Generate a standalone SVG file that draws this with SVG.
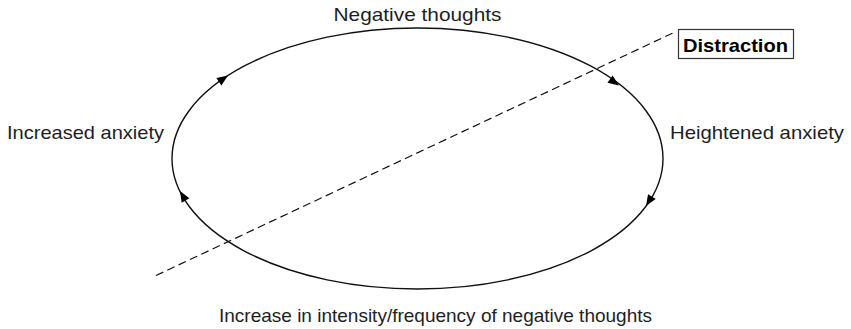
<svg xmlns="http://www.w3.org/2000/svg" width="851" height="329" viewBox="0 0 851 329">
<style>
text{font-family:"Liberation Sans",Arial,sans-serif;font-size:18.5px;fill:#1e1e1e}
.b{font-weight:bold;fill:#000}
.cyc{fill:none;stroke:#111;stroke-width:1.4}
.dash{fill:none;stroke:#111;stroke-width:1.2;stroke-dasharray:8 4.5}
.ah{fill:#000}
.box{fill:#fff;stroke:#333;stroke-width:1.2}
</style>
<defs>
<path id="arrow" class="ah" d="M0,0 L-11,-4.5 L-11,4.5 Z"/>
</defs>
<g id="connectors">
<ellipse class="cyc" cx="417.5" cy="158.5" rx="245.5" ry="130.5"/>
<line class="dash" x1="156" y1="275.5" x2="675" y2="32"/>
<use href="#arrow" transform="translate(228,75.5) rotate(-34.1)"/>
<use href="#arrow" transform="translate(619,85.5) rotate(35.3)"/>
<use href="#arrow" transform="translate(646,206) rotate(122.2)"/>
<use href="#arrow" transform="translate(180,191) rotate(-120.2)"/>
</g>
<g id="node-negative">
<text x="417.5" y="21" text-anchor="middle" textLength="168" lengthAdjust="spacingAndGlyphs">Negative thoughts</text>
</g>
<g id="node-heightened">
<text x="670" y="138.5" textLength="174" lengthAdjust="spacingAndGlyphs">Heightened anxiety</text>
</g>
<g id="node-increase">
<text x="435.5" y="322" text-anchor="middle" textLength="433" lengthAdjust="spacingAndGlyphs">Increase in intensity/frequency of negative thoughts</text>
</g>
<g id="node-increased">
<text x="7" y="138.5" textLength="157" lengthAdjust="spacingAndGlyphs">Increased anxiety</text>
</g>
<g id="node-distraction">
<rect class="box" x="678.5" y="29.5" width="115" height="29"/>
<text class="b" x="683" y="52" textLength="105" lengthAdjust="spacingAndGlyphs">Distraction</text>
</g>
</svg>
